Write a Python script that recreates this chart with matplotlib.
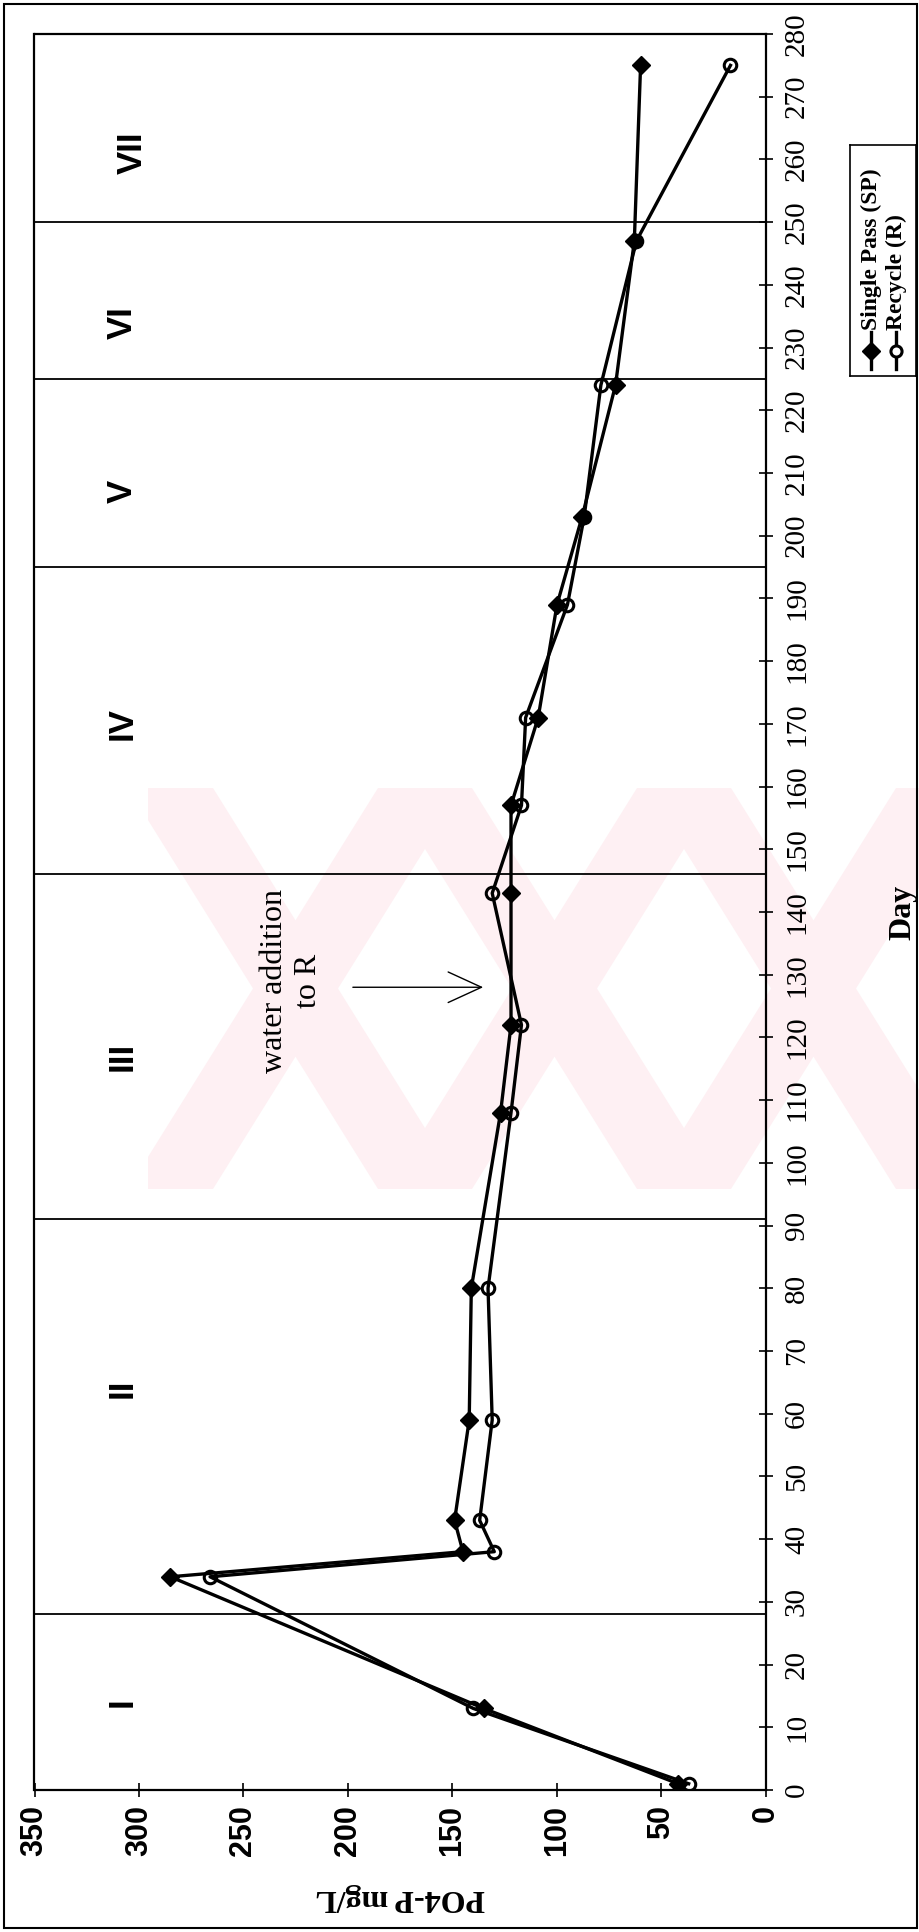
import matplotlib.pyplot as plt
from matplotlib.patches import Rectangle, Polygon

plt.rcParams['font.family'] = ['Liberation Serif', 'DejaVu Sans']

# data (day, PO4-P mg/L)
days = [1, 13, 34, 38, 43, 59, 80, 108, 122, 143, 157, 171, 189, 203, 224, 247, 275]
single_pass = [42, 135, 285, 145, 149, 142, 141, 127, 122, 122, 122, 109, 100, 88, 72, 63, 60]
recycle = [37, 140, 266, 130, 137, 131, 133, 122, 117, 131, 117, 115, 95, 87, 79, 62, 17]

phase_bounds = [28, 91, 146, 195, 225, 250]
phase_names = ['I', 'II', 'III', 'IV', 'V', 'VI', 'VII']
phase_label_day = [14, 64, 117, 170, 207, 234, 261]
phase_label_po4 = [308, 308, 308, 308, 308, 308, 303]

day_ticks = list(range(0, 281, 10))
po4_ticks = list(range(0, 351, 50))

W, H = 920, 1932


def fpx(x, y):
    # pixel (from top-left) -> figure fraction
    return (x / W, 1 - y / H)


# the page is printed landscape -> drawn rotated (day runs upward, PO4 to the left)
fig = plt.figure(figsize=(9.2, 19.32), dpi=100)
ax = fig.add_axes([0.0375, 0.0735, 0.7951, 0.9089])
ax.patch.set_alpha(0)

# faint pink scan watermark behind the chart
wm_clip = Rectangle(fpx(148, 1189), (920 - 148) / W, (1189 - 788) / H,
                    transform=fig.transFigure, fill=False, lw=0)
fig.add_artist(wm_clip)
for x0 in [148, 407, 666, 925]:
    for sgn in [1, -1]:
        if sgn == 1:
            pts = [(x0 - 20, 1189), (x0 + 65, 1189), (x0 + 315, 788), (x0 + 230, 788)]
        else:
            pts = [(x0 - 20, 788), (x0 + 65, 788), (x0 + 315, 1189), (x0 + 230, 1189)]
        band = Polygon([fpx(px, py) for px, py in pts], closed=True,
                       transform=fig.transFigure, color='#fef0f3', lw=0, zorder=0)
        band.set_clip_path(wm_clip)
        fig.add_artist(band)

for d in phase_bounds:
    ax.axhline(d, color='black', lw=1.3, zorder=1)

ax.plot(single_pass, days, '-D', color='black', lw=2.4, ms=9.5, mfc='black',
        mec='black', zorder=3)
ax.plot(recycle, days, '-o', color='black', lw=2.4, ms=9, mfc='none',
        mec='black', mew=2.2, zorder=3)

ax.set_xlim(350, 0)
ax.set_ylim(0, 280)

ax.yaxis.tick_right()
ax.set_yticks(day_ticks)
ax.set_yticklabels([str(t) for t in day_ticks], rotation=90, va='center',
                   fontsize=21, family='Liberation Serif')
ax.set_xticks(po4_ticks)
ax.set_xticklabels([str(t) for t in po4_ticks], rotation=90, fontsize=22,
                   fontweight='bold', family='Liberation Sans')
ax.tick_params(axis='both', direction='inout', length=10, width=1.2)
ax.tick_params(axis='y', pad=8)
ax.tick_params(axis='x', pad=6)
for s in ax.spines.values():
    s.set_linewidth(1.6)

ax.text(0.5, -0.0615, 'PO4-P mg/L', transform=ax.transAxes, rotation=180,
        ha='center', va='center', fontsize=23, fontweight='bold')
ax.text(1.1875, 0.5, 'Day', transform=ax.transAxes, rotation=90,
        ha='center', va='center', fontsize=23, fontweight='bold')

for name, d, p in zip(phase_names, phase_label_day, phase_label_po4):
    ax.text(p, d, name, rotation=90, ha='center', va='center', fontsize=25,
            fontweight='bold', family='Liberation Sans')

ax.annotate('', xy=(134, 128), xytext=(199, 128),
            arrowprops=dict(arrowstyle='->,head_length=1.2,head_width=0.55',
                            lw=1.0, color='black', mutation_scale=20))
ax.text(227, 129, 'water addition\nto R', rotation=90, ha='center', va='center',
        multialignment='center', fontsize=23)

# legend box, drawn by hand because it is rotated as well
lax = fig.add_axes([850 / W, 1 - 376 / H, 66 / W, 231 / H])
lax.set_xlim(0, 1)
lax.set_ylim(0, 1)
lax.set_xticks([])
lax.set_yticks([])
for s in lax.spines.values():
    s.set_linewidth(1.2)
lax.plot([0.32, 0.32], [0.03, 0.19], '-', color='black', lw=2.4)
lax.plot([0.32], [0.11], 'D', color='black', ms=9)
lax.plot([0.70, 0.70], [0.03, 0.19], '-', color='black', lw=2.4)
lax.plot([0.70], [0.11], 'o', mfc='white', mec='black', mew=2.2, ms=8)
lax.text(0.32, 0.20, 'Single Pass (SP)', rotation=90, ha='center', va='bottom',
         fontsize=17, fontweight='bold')
lax.text(0.70, 0.20, 'Recycle (R)', rotation=90, ha='center', va='bottom',
         fontsize=17, fontweight='bold')

fig.add_artist(Rectangle((0.004, 0.002), 0.993, 0.996, transform=fig.transFigure,
                         fill=False, lw=1.5, color='black'))

fig.savefig('out.png', dpi=100)
